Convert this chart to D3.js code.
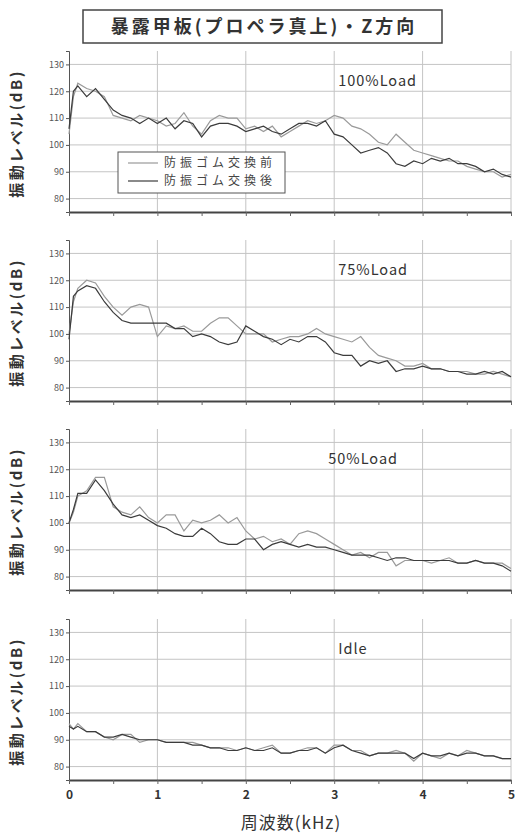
<!DOCTYPE html>
<html lang="ja">
  <head>
    <meta charset="utf-8">
    <title>暴露甲板(プロペラ真上)・Z方向</title>
    <script type="text/javascript" src="https://cdn.jsdelivr.net/npm/d3@7"></script>
    <style>
      body { margin: 0; background: white; }
      text { font-family: "Noto Sans CJK JP", "Noto Sans", sans-serif; }
      .grid line { stroke: #c4c4c4; stroke-width: 1px; }
      .yaxis text { font-size: 9px; fill: #555; }
      .xaxis text { font-size: 12px; fill: #333; font-weight: bold; }
    </style>
  </head>
  <body>
    <script>
      // frequency in kHz (shared by all series)
      var freq = [0, 0.05, 0.1, 0.2, 0.3, 0.4, 0.5, 0.6, 0.7, 0.8, 0.9,
                  1.0, 1.1, 1.2, 1.3, 1.4, 1.5, 1.6, 1.7, 1.8, 1.9,
                  2.0, 2.1, 2.2, 2.3, 2.4, 2.5, 2.6, 2.7, 2.8, 2.9,
                  3.0, 3.1, 3.2, 3.3, 3.4, 3.5, 3.6, 3.7, 3.8, 3.9,
                  4.0, 4.1, 4.2, 4.3, 4.4, 4.5, 4.6, 4.7, 4.8, 4.9, 5.0];

      var panelLabels = ["100%Load", "75%Load", "50%Load", "Idle"];
      var seriesNames = ["防振ゴム交換前", "防振ゴム交換後"];
      var yTicks = [80, 90, 100, 110, 120, 130];
      var xTicks = [0, 1, 2, 3, 4, 5];

      // 防振ゴム交換前
      var load100Before = [104,118,123,121,120,118,111,110,109,111,
                           110,109,107,108,112,107,104,109,111,110,
                           110,106,107,105,107,103,105,107,109,108,
                           109,111,110,107,106,104,101,100,104,101,
                           98,97,96,95,94,94,92,91,90,90,88,89];
      // 防振ゴム交換後
      var load100After = [106,120,122,118,121,117,113,111,110,108,
                          110,108,110,106,109,108,103,107,108,108,
                          107,105,106,107,105,104,106,108,108,107,
                          109,104,103,100,97,98,99,97,93,92,
                          94,93,95,94,95,93,93,92,90,91,89,88];

      var load75Before = [100,112,117,120,119,114,110,107,110,111,
                          110,99,103,102,103,101,101,104,106,106,
                          103,100,100,100,97,98,99,99,100,102,
                          100,99,98,97,99,95,92,91,90,88,
                          88,89,87,87,86,86,86,85,85,86,85,84];
      var load75After = [98,114,116,118,117,112,108,105,104,104,
                         104,104,104,102,102,99,100,99,97,96,
                         97,103,101,99,98,96,98,97,99,99,
                         97,93,92,92,88,90,89,90,86,87,
                         87,88,87,87,86,86,85,85,86,85,86,84];

      var load50Before = [100,104,110,112,117,117,106,104,103,106,
                          102,100,103,103,97,101,100,101,103,100,
                          102,97,94,95,93,94,92,96,97,96,
                          94,92,90,88,89,87,89,89,84,86,
                          86,86,85,86,87,85,85,86,85,85,85,83];
      var load50After = [100,105,111,111,116,112,107,103,102,103,
                         101,99,98,96,95,95,98,96,93,92,
                         92,94,94,90,92,93,92,91,92,91,
                         91,90,89,88,88,88,87,86,87,87,
                         86,86,86,86,86,85,85,86,85,85,84,82];

      var idleBefore = [96,94,96,93,93,91,90,92,92,89,
                        90,90,89,89,89,89,88,87,87,87,
                        86,87,86,87,88,85,85,86,87,87,
                        85,88,88,86,86,84,85,85,86,85,
                        82,85,84,83,85,84,86,85,84,84,83,83];
      var idleAfter = [95,94,95,93,93,91,91,92,91,90,
                       90,90,89,89,89,88,88,87,87,86,
                       86,87,86,86,87,85,85,86,86,87,
                       85,87,88,86,85,84,85,85,85,85,
                       83,85,84,84,85,84,85,85,84,84,83,83];

      var panels = [
        {label: panelLabels[0], series: [load100Before, load100After]},
        {label: panelLabels[1], series: [load75Before, load75After]},
        {label: panelLabels[2], series: [load50Before, load50After]},
        {label: panelLabels[3], series: [idleBefore, idleAfter]}
      ];

      var width = 528, height = 836;
      var left = 69, right = 511;
      var panelTops = [51, 240, 429, 619];
      var panelH = 161;
      var colors = ["#9a9a9a", "#3c3c3c"];

      var svg = d3.select("body")
                  .append("svg")
                  .attr("width", width)
                  .attr("height", height);

      // title box
      svg.append("rect")
         .attr("x", 83).attr("y", 10)
         .attr("width", 359).attr("height", 33)
         .attr("fill", "white")
         .attr("stroke", "#444")
         .attr("stroke-width", 1.5);
      svg.append("text")
         .attr("x", 264).attr("y", 33)
         .attr("text-anchor", "middle")
         .style("font-size", "18px")
         .style("letter-spacing", "3px")
         .style("font-weight", "bold")
         .style("fill", "#333")
         .text("暴露甲板(プロペラ真上)・Z方向");

      var x = d3.scaleLinear()
                .domain([0, 5])
                .range([left, right]);

      panels.forEach(function(p, i) {
        var top = panelTops[i];
        var y = d3.scaleLinear()
                  .domain([75, 135])
                  .range([top + panelH, top]);

        var g = svg.append("g");

        // horizontal grid
        g.append("g")
         .attr("class", "grid")
         .selectAll("line")
         .data(yTicks)
         .enter()
         .append("line")
            .attr("x1", left).attr("x2", right)
            .attr("y1", d => y(d)).attr("y2", d => y(d));

        // vertical grid
        g.append("g")
         .attr("class", "grid")
         .selectAll("line")
         .data(xTicks.slice(1))
         .enter()
         .append("line")
            .attr("x1", d => x(d)).attr("x2", d => x(d))
            .attr("y1", top).attr("y2", top + panelH);

        // left axis
        var yAxis = g.append("g")
                     .attr("class", "yaxis")
                     .attr("transform", "translate(" + left + ",0)")
                     .call(d3.axisLeft(y).tickValues(yTicks).tickSize(3).tickPadding(2));
        yAxis.select(".domain").attr("stroke", "#555");
        yAxis.selectAll(".tick line").attr("stroke", "#555");

        // bottom axis
        var xAxis = g.append("g")
                     .attr("class", "xaxis")
                     .attr("transform", "translate(0," + (top + panelH) + ")")
                     .call(d3.axisBottom(x)
                             .tickValues(d3.range(0, 5.01, 0.5))
                             .tickSize(4)
                             .tickSizeOuter(0)
                             .tickPadding(6)
                             .tickFormat(d => (i == 3 && d % 1 == 0) ? d : ""));
        xAxis.select(".domain").attr("stroke", "#444").attr("stroke-width", 2);
        xAxis.selectAll(".tick line").attr("stroke", "#666");

        // y label
        svg.append("text")
           .attr("transform", "translate(22," + (top + panelH / 2 + 2) + ") rotate(-90)")
           .attr("text-anchor", "middle")
           .style("font-size", "15px")
           .style("letter-spacing", "2.5px")
           .style("font-weight", "bold")
           .style("fill", "#333")
           .text("振動レベル(dB)");

        var line = d3.line()
                     .x((d, k) => x(freq[k]))
                     .y(d => y(d));

        p.series.forEach(function(s, j) {
          g.append("path")
           .datum(s)
           .attr("fill", "none")
           .attr("stroke", colors[j])
           .attr("stroke-width", 1.2)
           .attr("d", line);
        });

        // load label
        g.append("text")
         .attr("x", x(3) - (i == 2 ? 10 : 0) + 4)
         .attr("y", y(124) + 5)
         .style("font-size", "14.5px")
         .style("letter-spacing", "1px")
         .style("fill", "#333")
         .text(p.label);
      });

      // legend in first panel
      var leg = svg.append("g");
      leg.append("rect")
         .attr("x", 118).attr("y", 152)
         .attr("width", 167).attr("height", 41)
         .attr("fill", "white")
         .attr("stroke", "#555")
         .attr("stroke-width", 1);
      seriesNames.forEach(function(n, j) {
        var ly = 163 + j * 18;
        leg.append("line")
           .attr("x1", 128).attr("x2", 158)
           .attr("y1", ly).attr("y2", ly)
           .attr("stroke", colors[j])
           .attr("stroke-width", 1.2);
        leg.append("text")
           .attr("x", 164).attr("y", ly + 4)
           .style("font-size", "12px")
           .style("letter-spacing", "4px")
           .style("fill", "#444")
           .text(n);
      });

      // x label
      svg.append("text")
         .attr("x", 291).attr("y", 829)
         .attr("text-anchor", "middle")
         .style("font-size", "17px")
         .style("letter-spacing", "1px")
         .style("fill", "#333")
         .text("周波数(kHz)");
    </script>
  </body>
</html>
